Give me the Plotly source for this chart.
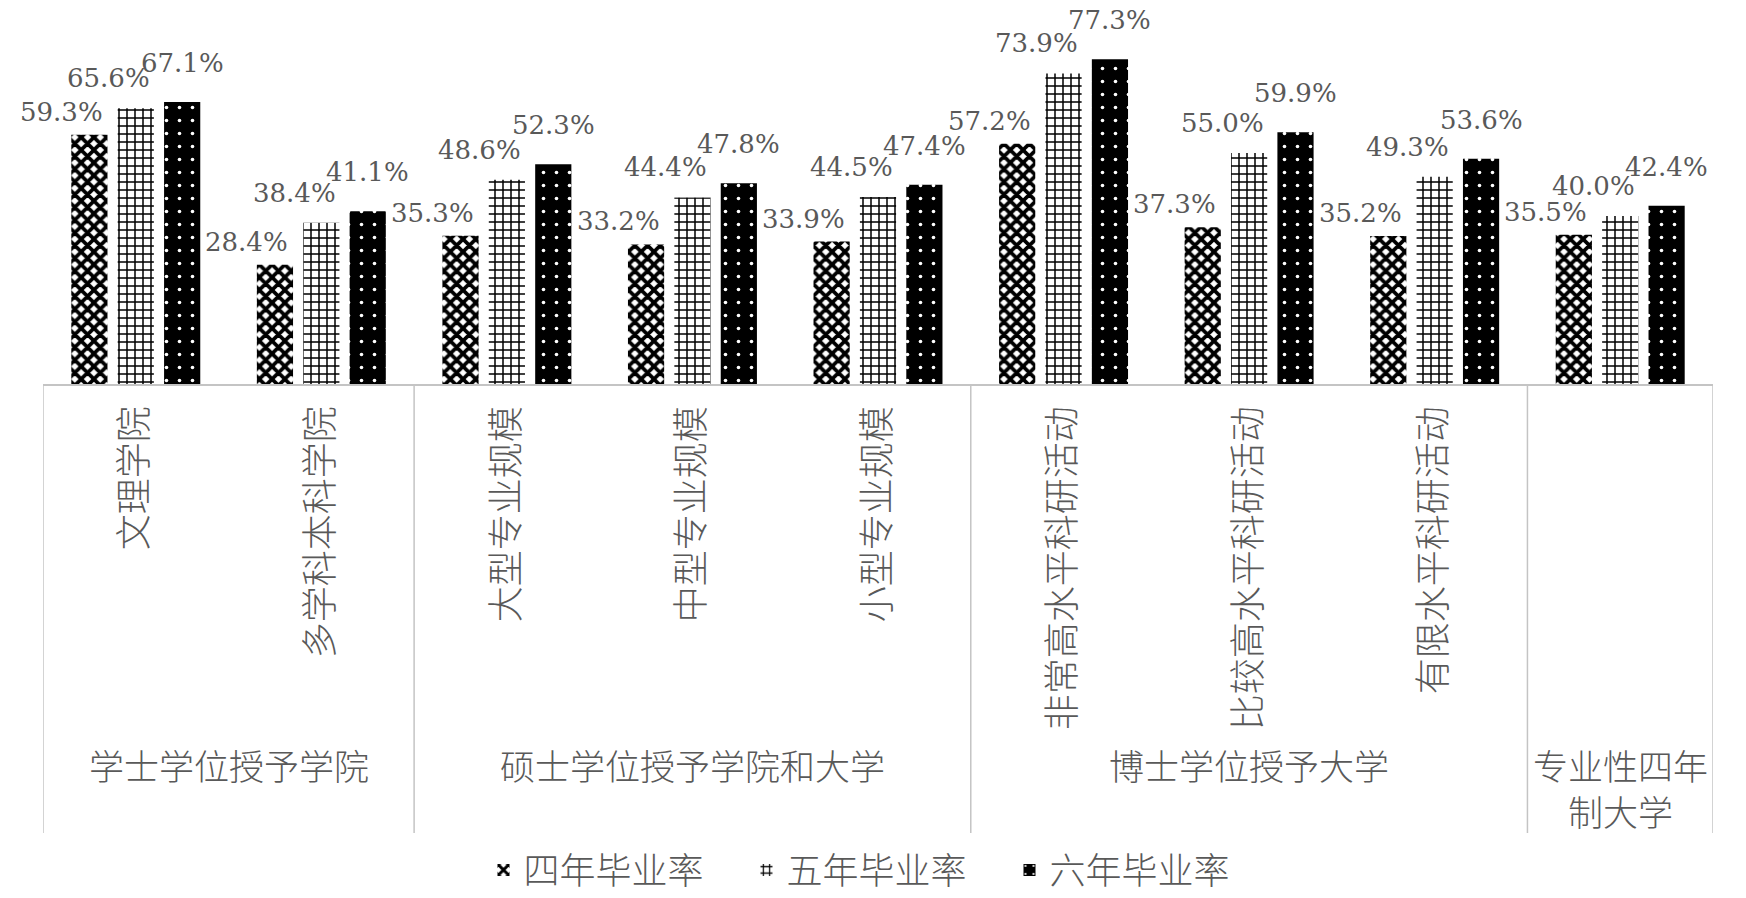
import plotly.graph_objects as go

# ---------------- data ----------------
categories = ["文理学院", "多学科本科学院", "大型专业规模", "中型专业规模", "小型专业规模",
              "非常高水平科研活动", "比较高水平科研活动", "有限水平科研活动", " "]
group_names = ["学士学位授予学院", "硕士学位授予学院和大学", "博士学位授予大学", "专业性四年<br>制大学"]
group_counts = [2, 3, 3, 1]

series_names = ["四年毕业率", "五年毕业率", "六年毕业率"]
rate_4yr = [59.3, 28.4, 35.3, 33.2, 33.9, 57.2, 37.3, 35.2, 35.5]
rate_5yr = [65.6, 38.4, 48.6, 44.4, 44.5, 73.9, 55.0, 49.3, 40.0]
rate_6yr = [67.1, 41.1, 52.3, 47.8, 47.4, 77.3, 59.9, 53.6, 42.4]

# ---------------- style ----------------
W, H = 1746, 898
M_L, M_R, M_T, M_B = 43, 33, 10, 514
plot_h = H - M_T - M_B
BARGAP = 0.25
GRAY = "#595959"
LINE_GRAY = "#c4c4c4"
CJK = "Noto Sans CJK SC"
SERIF = "DejaVu Serif"

patterns = [
    dict(shape="x", fgcolor="black", bgcolor="white", size=9, solidity=0.65, fillmode="replace"),
    dict(shape="+", fgcolor="black", bgcolor="white", size=8, solidity=0.34, fillmode="replace"),
    dict(shape=".", fgcolor="white", bgcolor="black", size=13, solidity=0.06, fillmode="replace"),
]
base_colors = ["white", "white", "black"]
# label nudges per series (pixels): (dx, dy)
label_nudge = [(-28, 6), (-27, 13), (0, 22)]

series_values = [rate_4yr, rate_5yr, rate_6yr]
n_cat = len(categories)

fig = go.Figure()
for name, vals, pat, col in zip(series_names, series_values, patterns, base_colors):
    fig.add_trace(go.Bar(
        x=categories, y=vals, name=name,
        marker=dict(color=col, pattern=pat, line=dict(width=0)),
        hoverinfo="skip",
    ))

annotations = []
slot = (1 - BARGAP) / 3
for j, vals in enumerate(series_values):
    dx, dy = label_nudge[j]
    for i, v in enumerate(vals):
        annotations.append(dict(
            x=i + (j - 1) * slot, y=v, xref="x", yref="y",
            text=f"{v:.1f}%", showarrow=False,
            xanchor="center", yanchor="bottom",
            xshift=dx, yshift=dy,
            font=dict(family=SERIF, size=26, color=GRAY),
        ))

# group labels and dividers
shapes = []
start = 0
label_top = (M_T + plot_h - 737) / plot_h
divider_bottom = (M_T + plot_h - 833) / plot_h
boundaries = [-0.5]
for gname, cnt in zip(group_names, group_counts):
    center = start + (cnt - 1) / 2
    annotations.append(dict(
        x=center, y=label_top, xref="x", yref="paper",
        text=gname, showarrow=False, xanchor="center", yanchor="top",
        font=dict(family=CJK, size=35, color=GRAY, weight=300),
    ))
    start += cnt
    boundaries.append(start - 0.5)

for b in boundaries:
    shapes.append(dict(type="line", xref="x", yref="paper",
                       x0=b, x1=b, y0=0, y1=divider_bottom,
                       line=dict(color=LINE_GRAY, width=1.5)))

legend_y = (M_T + plot_h - 870) / plot_h

fig.update_layout(
    width=W, height=H,
    margin=dict(l=M_L, r=M_R, t=M_T, b=M_B, autoexpand=False),
    paper_bgcolor="white", plot_bgcolor="white",
    barmode="group", bargap=BARGAP, bargroupgap=0.22,
    showlegend=True, hovermode=False,
    legend=dict(orientation="h", x=0.5, xanchor="center", y=legend_y, yanchor="middle",
                font=dict(family=CJK, size=36, color=GRAY, weight=300),
                entrywidth=218, entrywidthmode="pixels",
                itemwidth=30, traceorder="normal"),
    annotations=annotations,
    shapes=shapes,
    xaxis=dict(type="category", range=[-0.5, n_cat - 0.5], autorange=False,
               showline=True, linecolor=LINE_GRAY, linewidth=1.5,
               showgrid=False, zeroline=False, ticks="", tickangle=-90,
               ticklabelstandoff=6, automargin=False,
               tickfont=dict(family=CJK, size=36, color=GRAY, weight=300)),
    yaxis=dict(range=[0, 89], autorange=False, visible=False, showgrid=False, zeroline=False),
)

fig.write_html("out.html", config={"displayModeBar": False},
               post_script="document.body.style.margin='0';")
